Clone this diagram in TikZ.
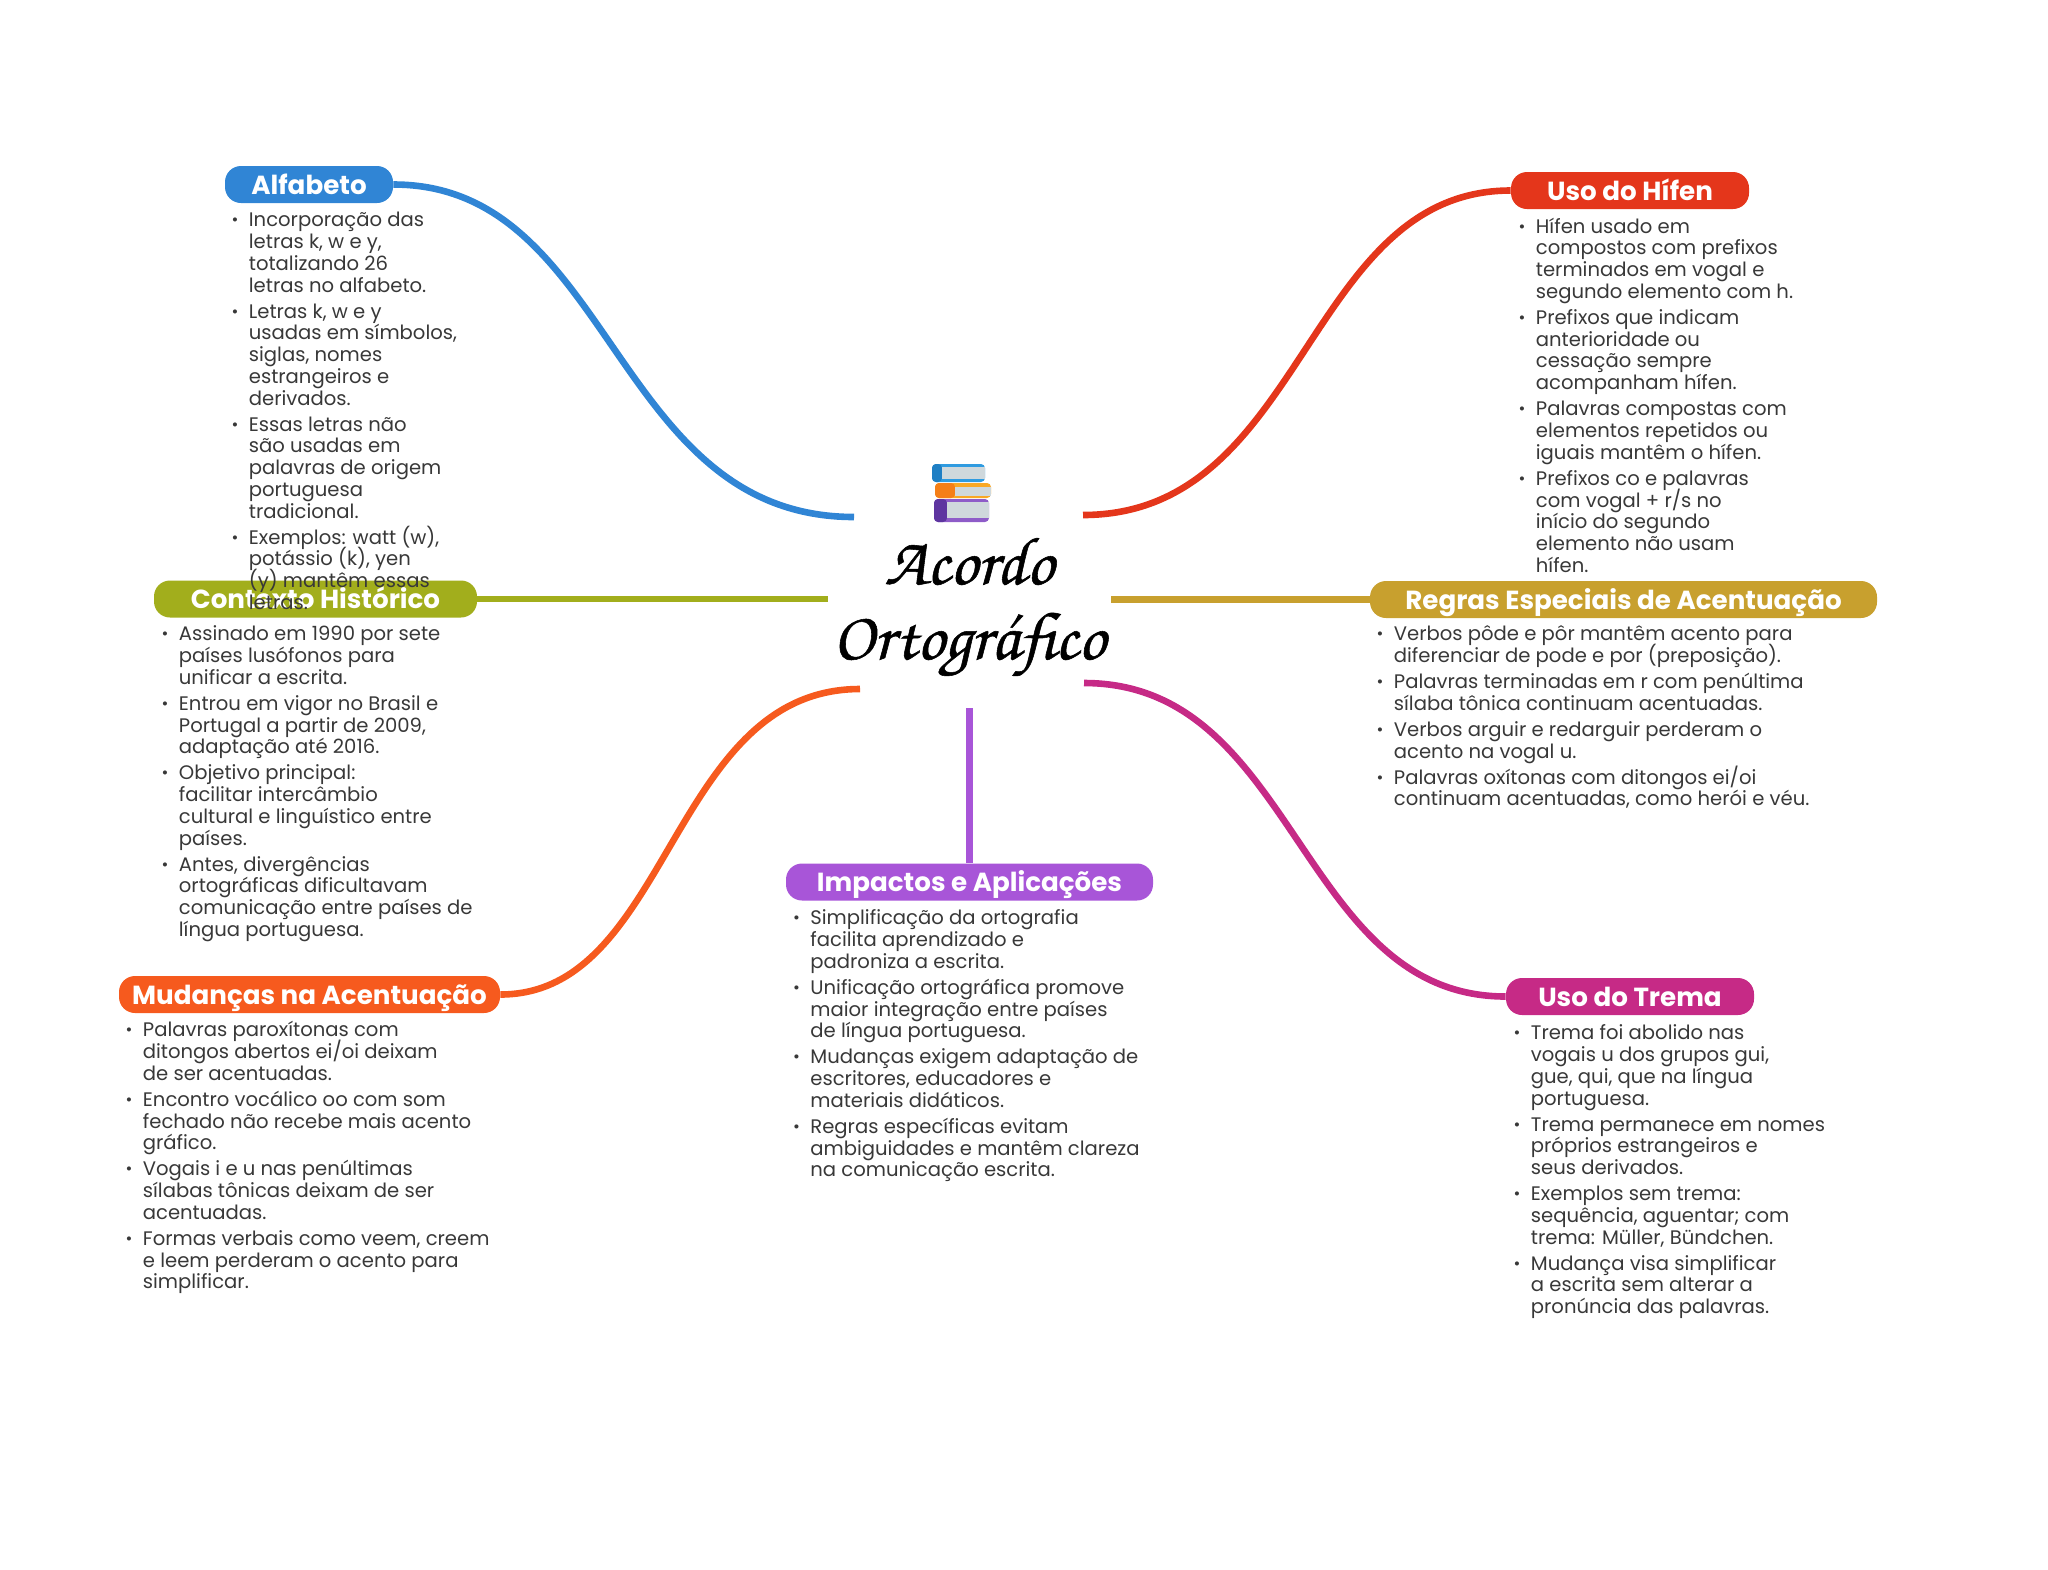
\documentclass[tikz,border=0pt]{standalone}
\usepackage{xcolor}
\usepackage{fontspec}
\setmainfont{Poppins}
\newfontfamily\titlefont[FakeBold=0.8]{TeX Gyre Chorus}
\usetikzlibrary{positioning}

\definecolor{alfabetoc}{HTML}{3085D5}
\definecolor{contextoc}{HTML}{A2AE1C}
\definecolor{hifenc}{HTML}{E4361B}
\definecolor{regrasc}{HTML}{C8A02E}
\definecolor{impactosc}{HTML}{A855D8}
\definecolor{mudancasc}{HTML}{F65A1E}
\definecolor{tremac}{HTML}{C62A86}
\definecolor{bodyc}{HTML}{383838}
\definecolor{pagesc}{HTML}{CFD8DC}

\newcommand{\topic}[1]{\llap{\raisebox{0.5pt}{\scalebox{0.85}{\textbullet}}\hskip 5.2pt}#1\\[2.15pt]}

\tikzset{
  pill/.style={fill=#1, rounded corners=8pt, minimum height=18.5pt, inner sep=0pt, text=white,
    text height=9.6pt, text depth=0pt, font=\fontsize{13.08}{14}\selectfont\bfseries},
  notes/.style={anchor=north west, inner sep=0pt, align=left, text=bodyc,
    font=\fontsize{9.8}{10.87}\selectfont\setlength{\lineskiplimit}{-20pt}},
  branch/.style={line width=3.3pt, draw=#1},
  title/.style={align=center, font=\fontsize{34}{37.5}\selectfont\titlefont}
}

\begin{document}
\begin{tikzpicture}[x=0.5pt, y=-0.5pt]
  \useasboundingbox (0,0) rectangle (2048,1569);

  \node[title] (root) at (969,607) {Acordo\\Ortográfico};
  \foreach \xa/\xb/\xc/\ya/\yb/\yc/\yd/\ca/\cb in {
      932/942/985/464/467/479/482/2F9BE0/1F7FC4,
      935/955/991/483/487/496/498/F9A825/F57F17,
      934/947/989/499/502/518/522/8E5CC8/5E35A0} {
    \definecolor{cover}{HTML}{\ca}
    \definecolor{spine}{HTML}{\cb}
    \fill[cover, rounded corners=2pt] (\xa,\ya) rectangle (\xc,\yd);
    \fill[spine, rounded corners=2pt] (\xa,\ya) rectangle (\xb,\yd);
    \fill[pagesc] (\xb,\yb) rectangle (\xc,\yc);
  }

  \coordinate (rootalfabeto) at (854,517);
  \coordinate (roothifen) at (1083,515);
  \coordinate (rootcontexto) at (828,599);
  \coordinate (rootregras) at (1111,599.5);
  \coordinate (rootmudancas) at (860,689);
  \coordinate (roottrema) at (1084,683);
  \coordinate (rootimpactos) at (969.5,708);

  \node[pill=alfabetoc, minimum width=84pt] (alfabeto) at (309,184.5) {Alfabeto};
  \node[pill=contextoc, minimum width=161.5pt] (contexto) at (315.5,599) {Contexto Histórico};
  \node[pill=hifenc, minimum width=119pt] (hifen) at (1630,190.5) {Uso do Hífen};
  \node[pill=regrasc, minimum width=253.5pt] (regras) at (1623.5,599.5) {Regras Especiais de Acentuação};
  \node[pill=impactosc, minimum width=183.5pt] (impactos) at (969.5,882) {Impactos e Aplicações};
  \node[pill=mudancasc, minimum width=190.5pt] (mudancas) at (309.5,994.5) {Mudanças na Acentuação};
  \node[pill=tremac, minimum width=124pt] (trema) at (1630,996.5) {Uso do Trema};

  \path
  (alfabeto.east) edge[branch=alfabetoc, out=0, in=180, out looseness=0.99, in looseness=1.09] (rootalfabeto)
  (hifen.west) edge[branch=hifenc, out=180, in=0, out looseness=0.98, in looseness=1.06] (roothifen)
  (contexto.east) edge[branch=contextoc] (rootcontexto)
  (regras.west) edge[branch=regrasc] (rootregras)
  (mudancas.east) edge[branch=mudancasc, out=0, in=180, out looseness=0.92, in looseness=1.03] (rootmudancas)
  (trema.west) edge[branch=tremac, out=180, in=0, out looseness=1.01, in looseness=1.04] (roottrema)
  (impactos.north) edge[branch=impactosc] (rootimpactos);

  \node[notes] (alfabetotxt) at (248.5,212) {%
    \topic{Incorporação das\\letras k, w e y,\\totalizando 26\\letras no alfabeto.}%
    \topic{Letras k, w e y\\usadas em símbolos,\\siglas, nomes\\estrangeiros e\\derivados.}%
    \topic{Essas letras não\\são usadas em\\palavras de origem\\portuguesa\\tradicional.}%
    \topic{Exemplos: watt (w),\\potássio (k), yen\\(y) mantêm essas\\letras.}};
  \node[notes] (contextotxt) at (178.5,625.5) {%
    \topic{Assinado em 1990 por sete\\países lusófonos para\\unificar a escrita.}%
    \topic{Entrou em vigor no Brasil e\\Portugal a partir de 2009,\\adaptação até 2016.}%
    \topic{Objetivo principal:\\facilitar intercâmbio\\cultural e linguístico entre\\países.}%
    \topic{Antes, divergências\\ortográficas dificultavam\\comunicação entre países de\\língua portuguesa.}};
  \node[notes] (hifentxt) at (1535.5,217.5) {%
    \topic{Hífen usado em\\compostos com prefixos\\terminados em vogal e\\segundo elemento com h.}%
    \topic{Prefixos que indicam\\anterioridade ou\\cessação sempre\\acompanham hífen.}%
    \topic{Palavras compostas com\\elementos repetidos ou\\iguais mantêm o hífen.}%
    \topic{Prefixos co e palavras\\com vogal + r/s no\\início do segundo\\elemento não usam\\hífen.}};
  \node[notes] (regrastxt) at (1393.5,625.5) {%
    \topic{Verbos pôde e pôr mantêm acento para\\diferenciar de pode e por (preposição).}%
    \topic{Palavras terminadas em r com penúltima\\sílaba tônica continuam acentuadas.}%
    \topic{Verbos arguir e redarguir perderam o\\acento na vogal u.}%
    \topic{Palavras oxítonas com ditongos ei/oi\\continuam acentuadas, como herói e véu.}};
  \node[notes] (impactostxt) at (810,909.5) {%
    \topic{Simplificação da ortografia\\facilita aprendizado e\\padroniza a escrita.}%
    \topic{Unificação ortográfica promove\\maior integração entre países\\de língua portuguesa.}%
    \topic{Mudanças exigem adaptação de\\escritores, educadores e\\materiais didáticos.}%
    \topic{Regras específicas evitam\\ambiguidades e mantêm clareza\\na comunicação escrita.}};
  \node[notes] (mudancastxt) at (142.5,1021) {%
    \topic{Palavras paroxítonas com\\ditongos abertos ei/oi deixam\\de ser acentuadas.}%
    \topic{Encontro vocálico oo com som\\fechado não recebe mais acento\\gráfico.}%
    \topic{Vogais i e u nas penúltimas\\sílabas tônicas deixam de ser\\acentuadas.}%
    \topic{Formas verbais como veem, creem\\e leem perderam o acento para\\simplificar.}};
  \node[notes] (trematxt) at (1530.5,1024.5) {%
    \topic{Trema foi abolido nas\\vogais u dos grupos gui,\\gue, qui, que na língua\\portuguesa.}%
    \topic{Trema permanece em nomes\\próprios estrangeiros e\\seus derivados.}%
    \topic{Exemplos sem trema:\\sequência, aguentar; com\\trema: Müller, Bündchen.}%
    \topic{Mudança visa simplificar\\a escrita sem alterar a\\pronúncia das palavras.}};
\end{tikzpicture}
\end{document}
